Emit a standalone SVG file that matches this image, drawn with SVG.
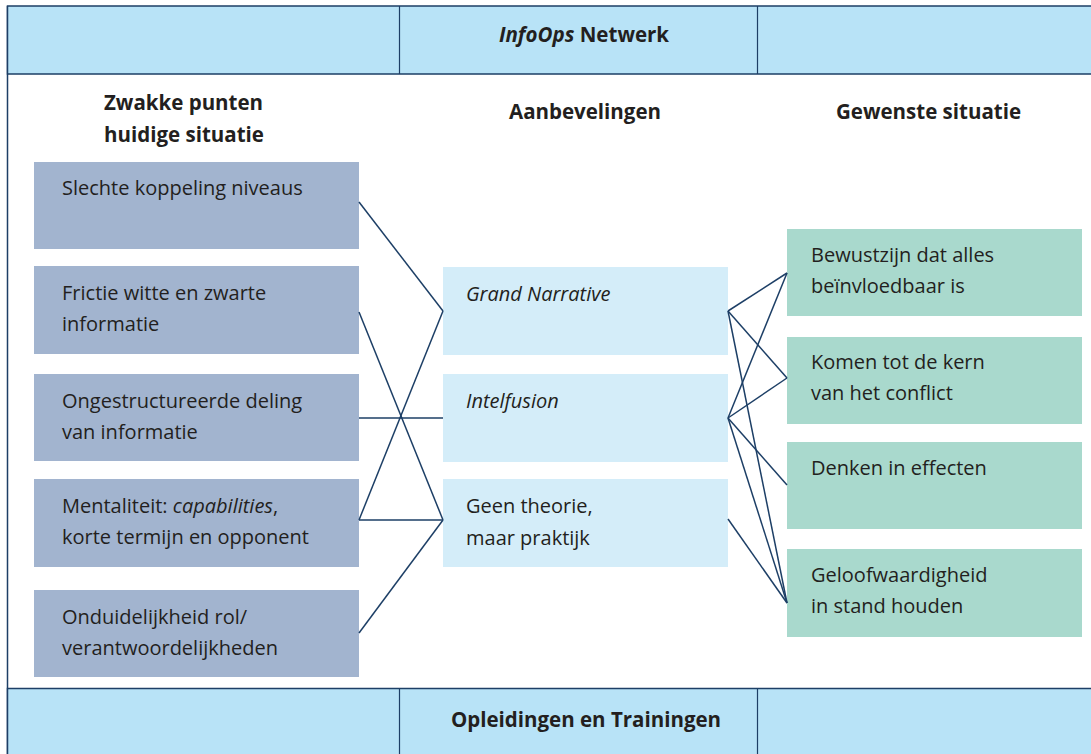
<svg xmlns="http://www.w3.org/2000/svg" width="1091" height="754" viewBox="0 0 1091 754">
<style>
text{font-family:"Open Sans","Noto Sans","Liberation Sans",sans-serif;fill:#231f20;font-size:20px}
.h{font-weight:bold;font-size:20.5px}
.bar{fill:#b8e3f7;stroke:#1d3f66;stroke-width:1.5}
.div{stroke:#1d3f66;stroke-width:1.2}
.l{fill:#a2b4cf}
.m{fill:#d4edf9}
.r{fill:#a9d9cd}
.c line{stroke:#1d3f66;stroke-width:1.5}
</style>
<rect x="0" y="0" width="1091" height="754" fill="#ffffff"/>
<line x1="7.5" y1="6" x2="7.5" y2="754" stroke="#1d3f66" stroke-width="1.5"/>
<g id="top-bar">
<rect class="bar" x="7.5" y="6" width="1090" height="68"/>
<line class="div" x1="399.5" y1="6" x2="399.5" y2="74"/>
<line class="div" x1="757.5" y1="6" x2="757.5" y2="74"/>
<text class="h" x="584" y="42" text-anchor="middle"><tspan font-style="italic">InfoOps</tspan> Netwerk</text>
</g>
<g id="bottom-bar">
<rect class="bar" x="7.5" y="688.5" width="1090" height="70"/>
<line class="div" x1="399.5" y1="688" x2="399.5" y2="754"/>
<line class="div" x1="757.5" y1="688" x2="757.5" y2="754"/>
<text class="h" x="586" y="727" text-anchor="middle">Opleidingen en Trainingen</text>
</g>
<g id="headers">
<text class="h" x="104" y="110">Zwakke punten</text>
<text class="h" x="104" y="142">huidige situatie</text>
<text class="h" x="509" y="119">Aanbevelingen</text>
<text class="h" x="836" y="119">Gewenste situatie</text>
</g>
<g id="l1"><rect class="l" x="34" y="162" width="325" height="87"/><text x="62" y="195">Slechte koppeling niveaus</text></g>
<g id="l2"><rect class="l" x="34" y="266" width="325" height="88"/><text x="62" y="300">Frictie witte en zwarte</text><text x="62" y="331">informatie</text></g>
<g id="l3"><rect class="l" x="34" y="374" width="325" height="87"/><text x="62" y="408">Ongestructureerde deling</text><text x="62" y="439">van informatie</text></g>
<g id="l4"><rect class="l" x="34" y="479" width="325" height="88"/><text x="62" y="513">Mentaliteit: <tspan font-style="italic">capabilities</tspan>,</text><text x="62" y="544">korte termijn en opponent</text></g>
<g id="l5"><rect class="l" x="34" y="590" width="325" height="87"/><text x="62" y="624">Onduidelijkheid rol/</text><text x="62" y="655">verantwoordelijkheden</text></g>
<g id="m1"><rect class="m" x="443" y="267" width="285" height="88"/><text x="466" y="301" font-style="italic">Grand Narrative</text></g>
<g id="m2"><rect class="m" x="443" y="374" width="285" height="88"/><text x="466" y="408" font-style="italic">Intelfusion</text></g>
<g id="m3"><rect class="m" x="443" y="479" width="285" height="88"/><text x="466" y="513">Geen theorie,</text><text x="466" y="545">maar praktijk</text></g>
<g id="r1"><rect class="r" x="787" y="229" width="295" height="87"/><text x="811" y="262">Bewustzijn dat alles</text><text x="811" y="293">beïnvloedbaar is</text></g>
<g id="r2"><rect class="r" x="787" y="337" width="295" height="87"/><text x="811" y="369">Komen tot de kern</text><text x="811" y="400">van het conflict</text></g>
<g id="r3"><rect class="r" x="787" y="442" width="295" height="87"/><text x="811" y="475">Denken in effecten</text></g>
<g id="r4"><rect class="r" x="787" y="549" width="295" height="88"/><text x="811" y="582">Geloofwaardigheid</text><text x="811" y="613">in stand houden</text></g>
<g id="connectors" class="c">
<line x1="359" y1="202" x2="443" y2="311"/>
<line x1="359" y1="312" x2="443" y2="520"/>
<line x1="359" y1="418" x2="443" y2="418"/>
<line x1="359" y1="520" x2="443" y2="311"/>
<line x1="359" y1="520" x2="443" y2="520"/>
<line x1="359" y1="633" x2="443" y2="520"/>
<line x1="728" y1="311" x2="787" y2="273"/>
<line x1="728" y1="311" x2="787" y2="378"/>
<line x1="728" y1="311" x2="787" y2="603"/>
<line x1="728" y1="418" x2="787" y2="273"/>
<line x1="728" y1="418" x2="787" y2="378"/>
<line x1="728" y1="418" x2="787" y2="485"/>
<line x1="728" y1="418" x2="787" y2="603"/>
<line x1="728" y1="519" x2="787" y2="603"/>
</g>
</svg>
